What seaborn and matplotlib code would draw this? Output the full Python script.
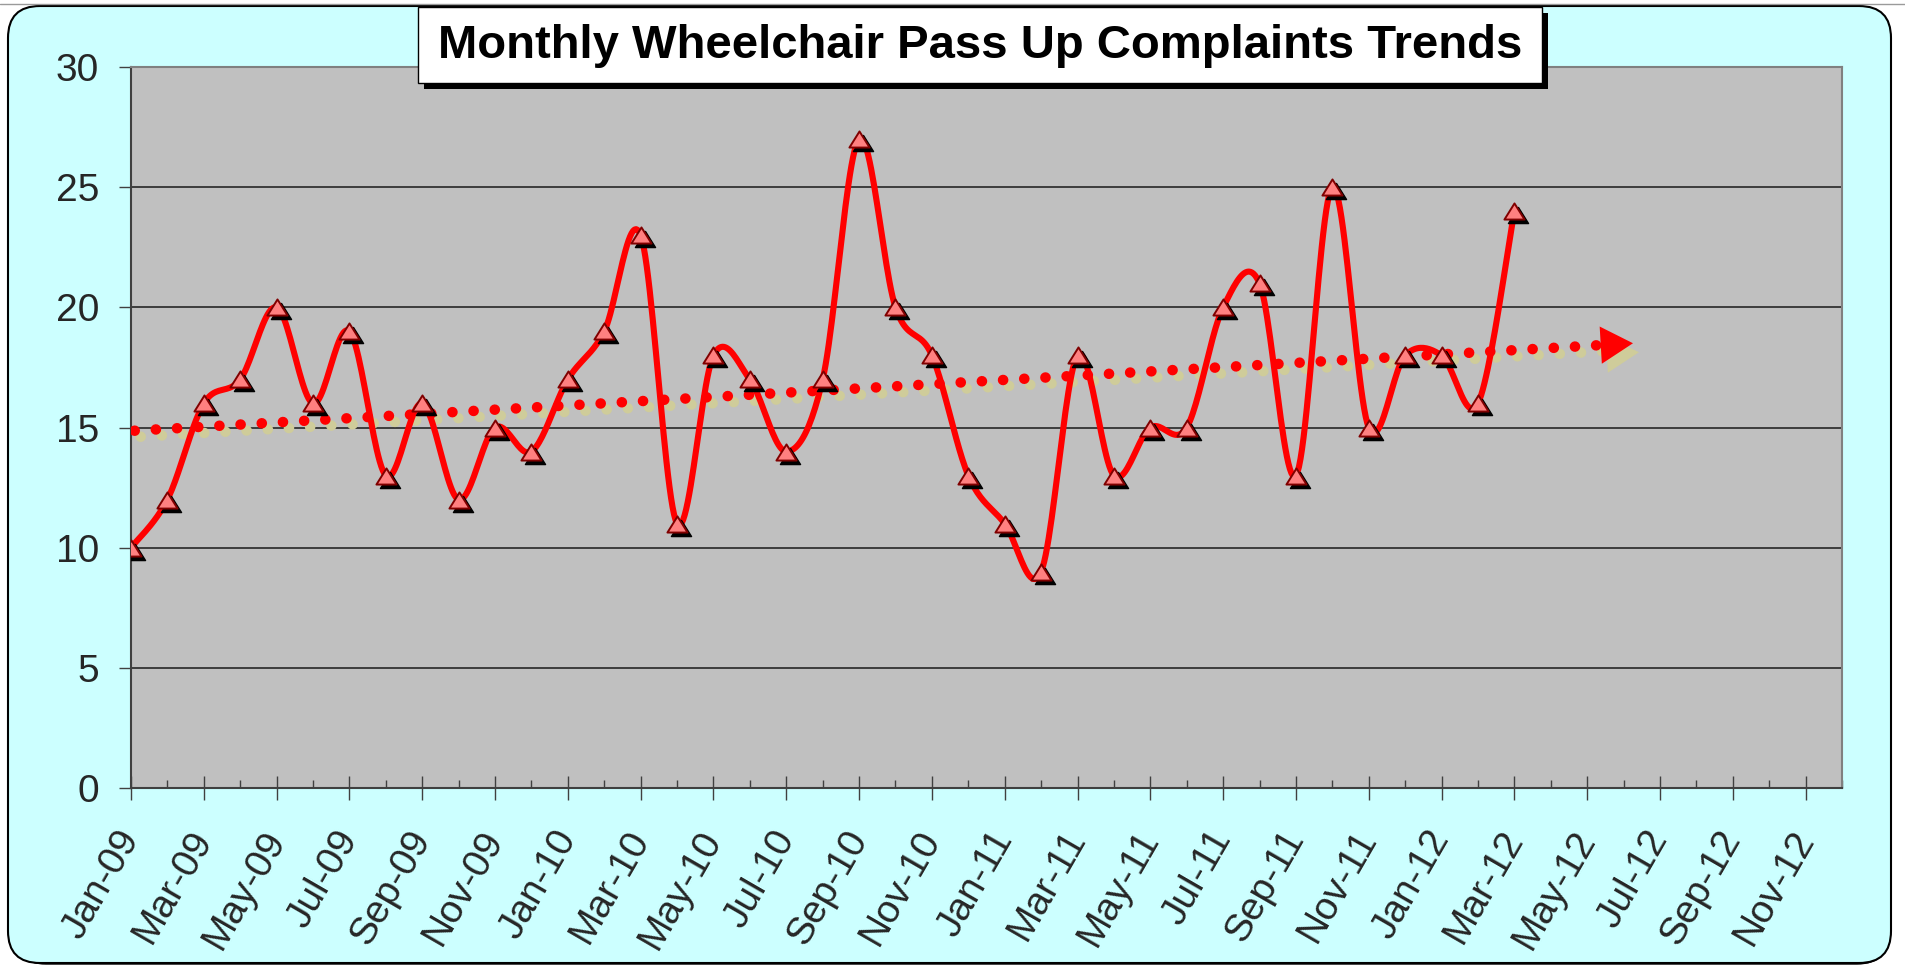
import numpy as np
import pandas as pd
import matplotlib
matplotlib.use("Agg")
import matplotlib.pyplot as plt
import matplotlib.transforms as mtransforms
from matplotlib.patches import FancyBboxPatch, Rectangle
from matplotlib.path import Path
import seaborn as sns

# monthly wheelchair pass up complaints, Jan-09 .. Mar-12
complaints = [10, 12, 16, 17, 20, 16, 19, 13, 16, 12, 15, 14,
              17, 19, 23, 11, 18, 17, 14, 17, 27, 20, 18, 13,
              11, 9, 18, 13, 15, 15, 20, 21, 13, 25, 15, 18,
              18, 16, 24]
axis_months = pd.date_range("2009-01-01", "2012-12-01", freq="MS")
month_labels = [d.strftime("%b-%y") for d in axis_months]
forecast_periods = 3
y_ticks = [0, 5, 10, 15, 20, 25, 30]
title = "Monthly Wheelchair Pass Up Complaints Trends"

W, H = 1906, 973


def smooth_line(xs, ys, steps=24):
    # excel-ish smoothed line: bezier segments, control points at 1/6 of neighbours
    px = np.concatenate([[xs[0]], xs, [xs[-1]]]).astype(float)
    py = np.concatenate([[ys[0]], ys, [ys[-1]]]).astype(float)
    t = np.linspace(0, 1, steps, endpoint=False)[:, None]
    out = []
    for i in range(1, len(px) - 2):
        p0 = np.array([px[i - 1], py[i - 1]])
        p1 = np.array([px[i], py[i]])
        p2 = np.array([px[i + 1], py[i + 1]])
        p3 = np.array([px[i + 2], py[i + 2]])
        b1 = p1 + (p2 - p0) / 6
        b2 = p2 - (p3 - p1) / 6
        seg = ((1 - t) ** 3) * p1 + 3 * ((1 - t) ** 2) * t * b1 + 3 * (1 - t) * t ** 2 * b2 + t ** 3 * p2
        out.append(seg)
    out.append(np.array([[px[-2], py[-2]]]))
    out = np.vstack(out)
    return out[:, 0], out[:, 1]


# a slightly wide triangle, like the excel marker
wide_tri = Path([(-1.25, -1), (1.25, -1), (0, 1), (-1.25, -1)],
                [Path.MOVETO, Path.LINETO, Path.LINETO, Path.CLOSEPOLY])

sns.set_theme(style="white")
plt.rcParams['font.family'] = ['Liberation Sans', 'DejaVu Sans']

fig = plt.figure(figsize=(W / 100, H / 100), dpi=100)
fig.patch.set_facecolor("white")

# background panel with rounded corners
bg = fig.add_axes([0, 0, 1, 1], zorder=-5)
bg.set_xlim(0, W)
bg.set_ylim(H, 0)
bg.axis("off")
bg.add_patch(FancyBboxPatch((14, 12), W - 17 - 14, H - 9 - 12,
                            boxstyle="round,pad=0,rounding_size=32",
                            facecolor="black", edgecolor="black", lw=1))
bg.add_patch(FancyBboxPatch((8, 6), W - 15 - 8, H - 10 - 6,
                            boxstyle="round,pad=0,rounding_size=32",
                            facecolor="#CCFFFF", edgecolor="black", lw=1.5))
bg.plot([0, W], [4, 4], color="#9a9a9a", lw=1)

df = pd.DataFrame({"month": np.arange(len(complaints)), "complaints": complaints})

ax = fig.add_axes([131 / W, 1 - 788 / H, (1842 - 131) / W, (788 - 67) / H], zorder=0)
ax.set_facecolor("#C0C0C0")

sx, sy = smooth_line(df["month"].values, df["complaints"].values)
smooth_df = pd.DataFrame({"month": sx, "complaints": sy})

# trend line (linear fit, projected forward)
slope, intercept = np.polyfit(df["month"], df["complaints"], 1)
end_x = len(complaints) - 1 + forecast_periods
tx = np.linspace(0.1, end_x - 0.75, 50)
ty = slope * tx + intercept
dots = (0, (0.01, 2.0))
shadow_tr = mtransforms.offset_copy(ax.transData, fig=fig, x=6, y=-6, units="dots")
ax.plot(tx, ty, color="#CFCC9A", lw=7.6, linestyle=dots,
        dash_capstyle="round", transform=shadow_tr, zorder=2)
ax.plot(tx, ty, color="red", lw=7.6, linestyle=dots,
        dash_capstyle="round", zorder=3)
angle = np.degrees(np.arctan2(slope * (721 / 30), (1711 / 47)))
ax_x = end_x - 0.35
head_tr = mtransforms.offset_copy(ax.transData, fig=fig, x=6, y=-9, units="dots")
ax.plot([ax_x], [slope * ax_x + intercept], marker=(3, 0, -90 + angle), markersize=31,
        color="#CFCC9A", mec="none", transform=head_tr, zorder=2)
ax.plot([ax_x], [slope * ax_x + intercept], marker=(3, 0, -90 + angle), markersize=31,
        color="red", mec="none", zorder=3)

sns.lineplot(data=smooth_df, x="month", y="complaints", color="red", lw=4.4,
             ax=ax, zorder=4, sort=False)

mark_shadow = mtransforms.offset_copy(ax.transData, fig=fig, x=4, y=-4, units="dots")
ax.plot(df["month"], df["complaints"], ls="none", marker=wide_tri, markersize=14.5,
        color="black", mec="black", transform=mark_shadow, zorder=5)
sns.scatterplot(data=df, x="month", y="complaints", marker=wide_tri, s=14.5 ** 2,
                color="#FF8080", edgecolor="#800000", linewidth=1.4, ax=ax, zorder=6)

ax.set_xlim(0, len(month_labels) - 1)
ax.set_ylim(0, 30)
ax.set_yticks(y_ticks)
ax.set_yticklabels([str(v) for v in y_ticks], fontsize=28)
ax.set_xticks(np.arange(0, len(month_labels), 2))
ax.set_xticks(np.arange(1, len(month_labels), 2), minor=True)
ax.set_xticklabels(month_labels[::2], rotation=60, ha="right", va="center",
                   rotation_mode="anchor", fontsize=28)
ax.set_xlabel("")
ax.set_ylabel("")
ax.grid(axis="y", color="#1a1a1a", lw=1.1)
ax.grid(axis="x", visible=False)
ax.set_axisbelow(True)

ax.tick_params(axis="y", which="major", direction="out", length=9, width=1,
               color="#404040", pad=14, left=True)
ax.tick_params(axis="x", which="major", direction="inout", length=17, width=1,
               color="#404040", pad=24, bottom=True)
ax.tick_params(axis="x", which="minor", direction="in", length=6, width=1,
               color="#404040", bottom=True)
for side in ["left", "bottom"]:
    ax.spines[side].set_color("#404040")
    ax.spines[side].set_linewidth(1.5)
for side in ["top", "right"]:
    ax.spines[side].set_color("#808080")
    ax.spines[side].set_linewidth(1.5)

# title box with drop shadow
top = fig.add_axes([0, 0, 1, 1], zorder=5)
top.set_xlim(0, W)
top.set_ylim(H, 0)
top.axis("off")
top.patch.set_visible(False)
top.add_patch(Rectangle((424, 13), 1124, 76, facecolor="black", edgecolor="none"))
top.add_patch(Rectangle((418, 7), 1124, 76, facecolor="white", edgecolor="black", lw=1))
top.text(980, 46, title, ha="center", va="center", fontsize=34, fontweight="bold",
         color="black")

plt.savefig("out.png", dpi=100)
